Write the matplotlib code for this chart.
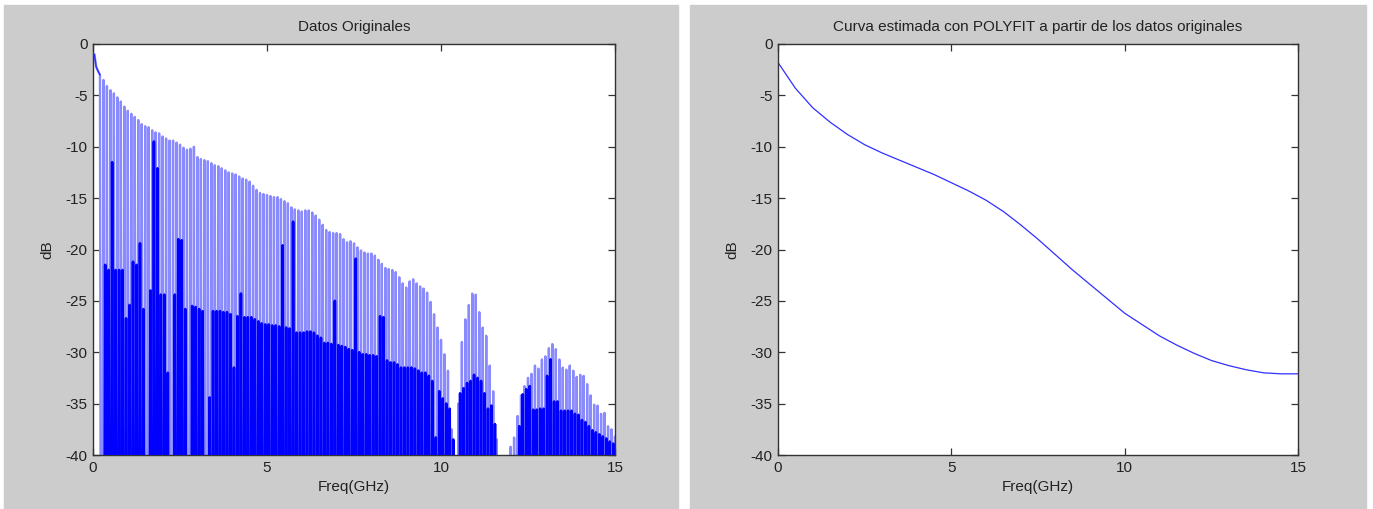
import numpy as np
import matplotlib
matplotlib.use("Agg")
import matplotlib.pyplot as plt
from matplotlib.patches import Rectangle

plt.rcParams['font.family'] = ['Liberation Sans Narrow', 'Liberation Sans', 'DejaVu Sans']

# ---------------- data ----------------
# smooth lead-in of the measured trace (GHz, dB)
lead_freq = [0.0, 0.04, 0.09, 0.14, 0.2]
lead_db = [-1.0, -1.0, -2.2, -2.6, -3.0]

# resonance comb: one entry per resonance, 0.2 .. 15.0 GHz every 0.1 GHz
res_freq = np.round(np.arange(0.2, 15.001, 0.1), 1)
peak_db = [
    -3.0, -3.5, -4.1, -4.5, -4.8, -5.2, -5.6, -6.1,
    -6.5, -6.8, -7.1, -7.4, -7.8, -8.0, -8.1, -8.4, -8.6, -8.7,
    -9.0, -9.2, -9.4, -9.4, -9.6, -9.8, -10.1, -10.3, -10.2, -10.0,
    -11.0, -11.2, -11.3, -11.4, -11.6, -11.8, -11.9, -12.1, -12.3, -12.5,
    -12.6, -12.7, -12.9, -13.1, -13.2, -13.4, -13.8, -14.2, -14.5, -14.6,
    -14.7, -14.8, -14.9, -14.9, -15.1, -15.3, -15.5, -15.9, -16.1, -16.2,
    -16.3, -16.2, -16.2, -16.4, -16.7, -17.1, -17.6, -18.1, -18.3, -18.4,
    -18.4, -18.5, -19.0, -19.3, -19.2, -19.4, -19.8, -20.1, -20.3, -20.4,
    -20.4, -20.6, -21.0, -21.4, -21.8, -21.9, -22.0, -22.2, -22.7, -23.3,
    -23.7, -23.1, -22.9, -23.3, -23.6, -23.8, -24.2, -25.1, -26.3, -27.6,
    -28.8, -30.2, -31.8, -37.5, -45.0, -35.0, -29.0, -26.8, -25.4, -24.3,
    -24.4, -26.1, -27.6, -28.4, -31.3, -33.8, -38.5, -45.0, -45.0, -45.0,
    -39.2, -38.3, -36.2, -34.2, -33.3, -32.5, -32.1, -31.3, -31.6, -30.7,
    -30.4, -29.6, -29.2, -29.7, -30.7, -31.5, -31.7, -31.3, -31.8, -32.4,
    -32.2, -32.3, -33.1, -34.2, -35.1, -35.2, -36.0, -35.9, -37.2, -37.5,
    -38.2]
mid_db = [
    -60.0, -21.5, -22.0, -11.5, -22.0, -22.0, -22.0, -26.7,
    -25.4, -21.2, -21.5, -19.4, -25.8, -60.0, -24.0, -9.5, -12.1, -24.4,
    -24.4, -32.0, -60.0, -24.4, -19.0, -19.1, -25.8, -60.0, -25.5, -25.6,
    -25.8, -26.0, -60.0, -34.4, -26.0, -26.0, -26.0, -26.1, -26.1, -26.3,
    -31.5, -26.5, -24.3, -26.6, -26.6, -26.6, -26.8, -27.0, -27.2, -27.3,
    -27.3, -27.4, -27.4, -27.5, -19.6, -27.6, -27.7, -17.3, -28.1, -28.1,
    -28.1, -28.0, -28.0, -28.1, -28.4, -28.6, -29.1, -29.1, -29.2, -25.0,
    -29.3, -29.4, -29.5, -29.7, -29.8, -20.9, -30.0, -30.2, -30.2, -30.3,
    -30.3, -30.4, -26.5, -26.6, -30.8, -31.0, -31.0, -31.2, -31.5, -31.5,
    -31.5, -31.5, -31.6, -31.8, -32.0, -32.0, -32.3, -32.8, -38.3, -33.8,
    -34.5, -35.0, -35.5, -38.5, -60.0, -34.0, -33.5, -33.0, -32.8, -32.2,
    -32.5, -32.8, -34.0, -35.5, -35.2, -37.0, -60.0, -60.0, -60.0, -60.0,
    -60.0, -60.0, -37.2, -34.1, -33.6, -33.3, -35.6, -35.6, -35.5, -35.5,
    -32.3, -30.7, -34.8, -34.8, -35.7, -35.7, -35.7, -35.7, -36.0, -36.1,
    -36.6, -36.8, -37.2, -37.6, -37.8, -38.0, -38.2, -38.4, -38.7, -38.9,
    -39.1]
notch_db = -60.0   # depth of the notches (below the plotted range)

# POLYFIT curve
fit_freq = [0.0, 0.5, 1.0, 1.5, 2.0, 2.5, 3.0, 3.5, 4.0, 4.5, 5.0, 5.5, 6.0, 6.5,
            7.0, 7.5, 8.0, 8.5, 9.0, 9.5, 10.0, 10.5, 11.0, 11.5, 12.0, 12.5,
            13.0, 13.5, 14.0, 14.5, 15.0]
fit_db = [-1.8, -4.3, -6.2, -7.6, -8.8, -9.8, -10.6, -11.3, -12.0, -12.7, -13.5,
          -14.3, -15.2, -16.3, -17.6, -19.0, -20.5, -22.0, -23.4, -24.8, -26.2,
          -27.3, -28.4, -29.3, -30.1, -30.8, -31.3, -31.7, -32.0, -32.1, -32.1]

x_ticks = [0, 5, 10, 15]
y_ticks = [0, -5, -10, -15, -20, -25, -30, -35, -40]

# ------------- build the measured trace -------------
step = 0.1
trace_f = list(lead_freq)
trace_db = list(lead_db)
dense_f, dense_db = [], []          # the densely overlapping lower part
for f, p, m in zip(res_freq, peak_db, mid_db):
    trace_f += [f, f + step * 0.25, f + step * 0.5, f + step * 0.75]
    trace_db += [p, notch_db, m, notch_db]
    dense_f += [f + step * 0.25, f + step * 0.5, f + step * 0.75]
    dense_db += [notch_db, m, notch_db]

# ---------------- figure ----------------
W, H = 1373, 509
fig = plt.figure(figsize=(W / 100, H / 100), dpi=100, facecolor='white')
gray = '#cccccc'
fig.patches.append(Rectangle((4 / W, 0), (678 - 4) / W, 1 - 5 / H,
                             transform=fig.transFigure, color=gray, zorder=-10))
fig.patches.append(Rectangle((690 / W, 0), (1366 - 690) / W, 1 - 5 / H,
                             transform=fig.transFigure, color=gray, zorder=-10))

ax_top, ax_bot = 44, 455
axL = fig.add_axes([93 / W, 1 - ax_bot / H, (615 - 93) / W, (ax_bot - ax_top) / H])
axR = fig.add_axes([778 / W, 1 - ax_bot / H, (1298 - 778) / W, (ax_bot - ax_top) / H])

axL.plot(trace_f, trace_db, color='#8a8aff', lw=1.7, zorder=2)
axL.plot(lead_freq, lead_db, color='#3030ff', lw=1.0, zorder=3)
axL.plot(dense_f, dense_db, color='#0000ff', lw=1.9, zorder=3)
axR.plot(fit_freq, fit_db, color='#3030ff', lw=0.9)

for ax, title in [(axL, 'Datos Originales'),
                  (axR, 'Curva estimada con POLYFIT a partir de los datos originales')]:
    ax.set_facecolor('white')
    ax.set_xlim(0, 15)
    ax.set_ylim(-40, 0)
    ax.set_xticks(x_ticks)
    ax.set_yticks(y_ticks)
    ax.set_xticklabels([str(t) for t in x_ticks])
    ax.set_yticklabels([str(t) for t in y_ticks])
    ax.tick_params(direction='in', top=True, right=True, length=5, width=0.9,
                   color='#333333', labelsize=11, labelcolor='#222222', pad=4)
    for s in ax.spines.values():
        s.set_color('#333333')
        s.set_linewidth(1.0)
    ax.set_title(title, fontsize=11, color='#222222', pad=9)
    ax.set_xlabel('Freq(GHz)', fontsize=11, color='#222222', labelpad=4)
    ax.set_ylabel('dB', fontsize=11, color='#222222', labelpad=8)

fig.savefig('out.png', dpi=100, facecolor=fig.get_facecolor())
